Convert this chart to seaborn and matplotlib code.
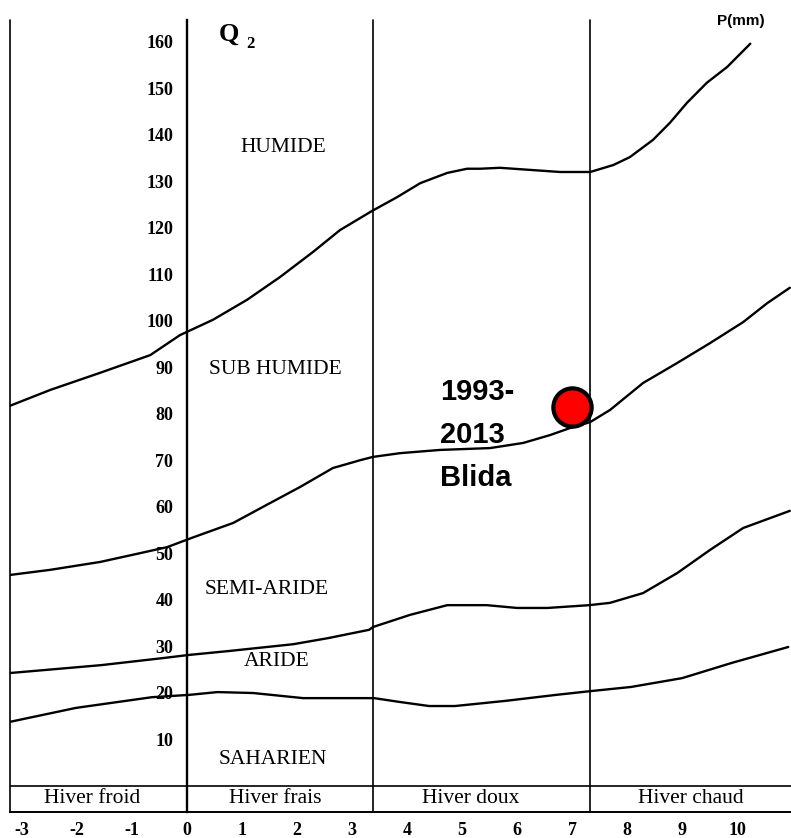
import numpy as np
import pandas as pd
import matplotlib
matplotlib.use("Agg")
import matplotlib.pyplot as plt
import seaborn as sns

sns.set_style("white")
plt.rcParams["font.family"] = ["Liberation Serif", "DejaVu Serif"]
plt.rcParams["text.color"] = "black"
plt.rcParams["xtick.color"] = "black"
plt.rcParams["ytick.color"] = "black"

# ----------------------------------------------------------
# DONNEES (lues sur le climagramme)
# ----------------------------------------------------------

# limite humide / sub-humide
m_hum = [-3.22, -2.49, -1.58, -0.67, -0.13, 0.47, 1.09, 1.69, 2.29, 2.78, 3.36, 3.82, 4.24,
         4.73, 5.09, 5.33, 5.69, 6.78, 7.33, 7.75, 8.05, 8.47, 8.78, 9.09, 9.45, 9.82, 10.24]
q_hum = [81.7, 85.1, 88.8, 92.6, 96.9, 100.2, 104.5, 109.4, 114.8, 119.5, 123.6, 126.6, 129.6,
         131.8, 132.7, 132.7, 132.9, 132.0, 132.0, 133.5, 135.2, 138.9, 142.6, 146.9, 151.2, 154.6, 159.6]

# limite sub-humide / semi-aride
m_sub = [-3.22, -2.49, -1.58, -0.85, -0.36, 0.09, 0.84, 1.45, 2.05, 2.65, 3.15, 3.38, 3.87,
         4.6, 5.51, 6.11, 6.6, 6.96, 7.33, 7.69, 8.29, 8.91, 9.51, 10.11, 10.55, 10.96]
q_sub = [45.3, 46.4, 48.1, 50.0, 51.3, 53.3, 56.5, 60.4, 64.2, 68.3, 70.0, 70.7, 71.5,
         72.2, 72.6, 73.7, 75.4, 76.9, 78.2, 80.8, 86.6, 90.9, 95.2, 99.7, 103.8, 107.1]

# limite semi-aride / aride
m_semi = [-3.22, -1.56, -0.45, 0.04, 0.73, 1.93, 2.56, 3.31, 3.38, 4.05, 4.73, 5.45, 6.0,
          6.55, 7.31, 7.69, 8.29, 8.91, 9.51, 10.11, 10.96]
q_semi = [24.2, 25.9, 27.4, 28.1, 28.9, 30.4, 31.7, 33.5, 34.1, 36.7, 38.8, 38.8, 38.2,
          38.2, 38.8, 39.3, 41.4, 45.7, 50.7, 55.4, 59.1]

# limite aride / saharien
m_ari = [-3.22, -2.02, -0.64, 0.04, 0.55, 1.2, 2.11, 3.4, 3.85, 4.4, 4.87, 5.78, 6.71,
         7.33, 8.07, 9.0, 9.91, 10.93]
q_ari = [13.7, 16.7, 19.0, 19.5, 20.1, 19.9, 18.8, 18.8, 18.0, 17.1, 17.1, 18.2, 19.5,
         20.3, 21.2, 23.1, 26.4, 29.8]

# station
station_m = [7.0]
station_q = [81.4]
station_txt = ["1993-", "2013", "Blida"]

etages = ["HUMIDE", "SUB HUMIDE", "SEMI-ARIDE", "ARIDE", "SAHARIEN"]
etages_m = [1.75, 1.6, 1.45, 1.62, 1.56]
etages_q = [137.3, 89.4, 42.1, 26.6, 5.5]

hivers = ["Hiver froid", "Hiver frais", "Hiver doux", "Hiver chaud"]
hivers_m = [-1.73, 1.6, 5.16, 9.15]

limites_m = [-3.22, 3.38, 7.33]

q_ticks = list(range(10, 170, 10))
m_ticks = list(range(-3, 11))

# ----------------------------------------------------------
# FIGURE
# ----------------------------------------------------------

fig = plt.figure(figsize=(7.91, 8.38), dpi=100)
ax = fig.add_axes([10 / 791, 26 / 838, 781 / 791, 792 / 838])

for mx, qy in [(m_hum, q_hum), (m_sub, q_sub), (m_semi, q_semi), (m_ari, q_ari)]:
    sns.lineplot(x=mx, y=qy, color="black", linewidth=1.7, ax=ax,
                 solid_joinstyle="round", solid_capstyle="round")

for xv in limites_m:
    ax.axvline(xv, color="black", linewidth=1.2, clip_on=False)
ax.axhline(0, color="black", linewidth=1.2)

sns.scatterplot(x=station_m, y=station_q, s=760, color="#ff0000",
                edgecolor="black", linewidth=3, ax=ax, zorder=5)

ax.set_xlim(-3.22, 10.98)
ax.set_ylim(-5.7, 164.7)

ax.spines["top"].set_visible(False)
ax.spines["right"].set_visible(False)
ax.spines["left"].set_position(("data", 0))
ax.spines["left"].set_linewidth(1.7)
ax.spines["left"].set_color("black")
ax.spines["bottom"].set_linewidth(1.4)
ax.spines["bottom"].set_color("black")

ax.set_yticks(q_ticks)
ax.set_yticklabels([str(v) for v in q_ticks], fontsize=13, fontweight="bold")
ax.tick_params(axis="y", direction="inout", length=8, width=1.2, pad=6)
ax.set_xticks(m_ticks)
ax.set_xticklabels([str(v) for v in m_ticks], fontsize=13, fontweight="bold")
ax.tick_params(axis="x", length=0, pad=7)
ax.set_xlabel("")
ax.set_ylabel("")

for txt, mx, qy in zip(etages, etages_m, etages_q):
    ax.text(mx, qy, txt, fontsize=15.5, ha="center", va="center")

for txt, mx in zip(hivers, hivers_m):
    ax.text(mx, -2.9, txt, fontsize=15.5, ha="center", va="center")

for i, txt in enumerate(station_txt):
    ax.text(4.6, 82.9 - 9.2 * i, txt, fontsize=21, fontweight="bold",
            family=["Liberation Sans", "DejaVu Sans"], ha="left", va="baseline")

ax.text(0.76, 161.7, "Q", fontsize=19, fontweight="bold", ha="center",
        va="center", clip_on=False)
ax.text(1.16, 159.6, "2", fontsize=12, fontweight="bold", ha="center",
        va="center", clip_on=False)
fig.text(741 / 791, 1 - 21 / 838, "P(mm)", fontsize=11, fontweight="bold",
         family=["Liberation Sans", "DejaVu Sans"], ha="center", va="center")

fig.savefig("out.png", dpi=100)
plt.close(fig)
